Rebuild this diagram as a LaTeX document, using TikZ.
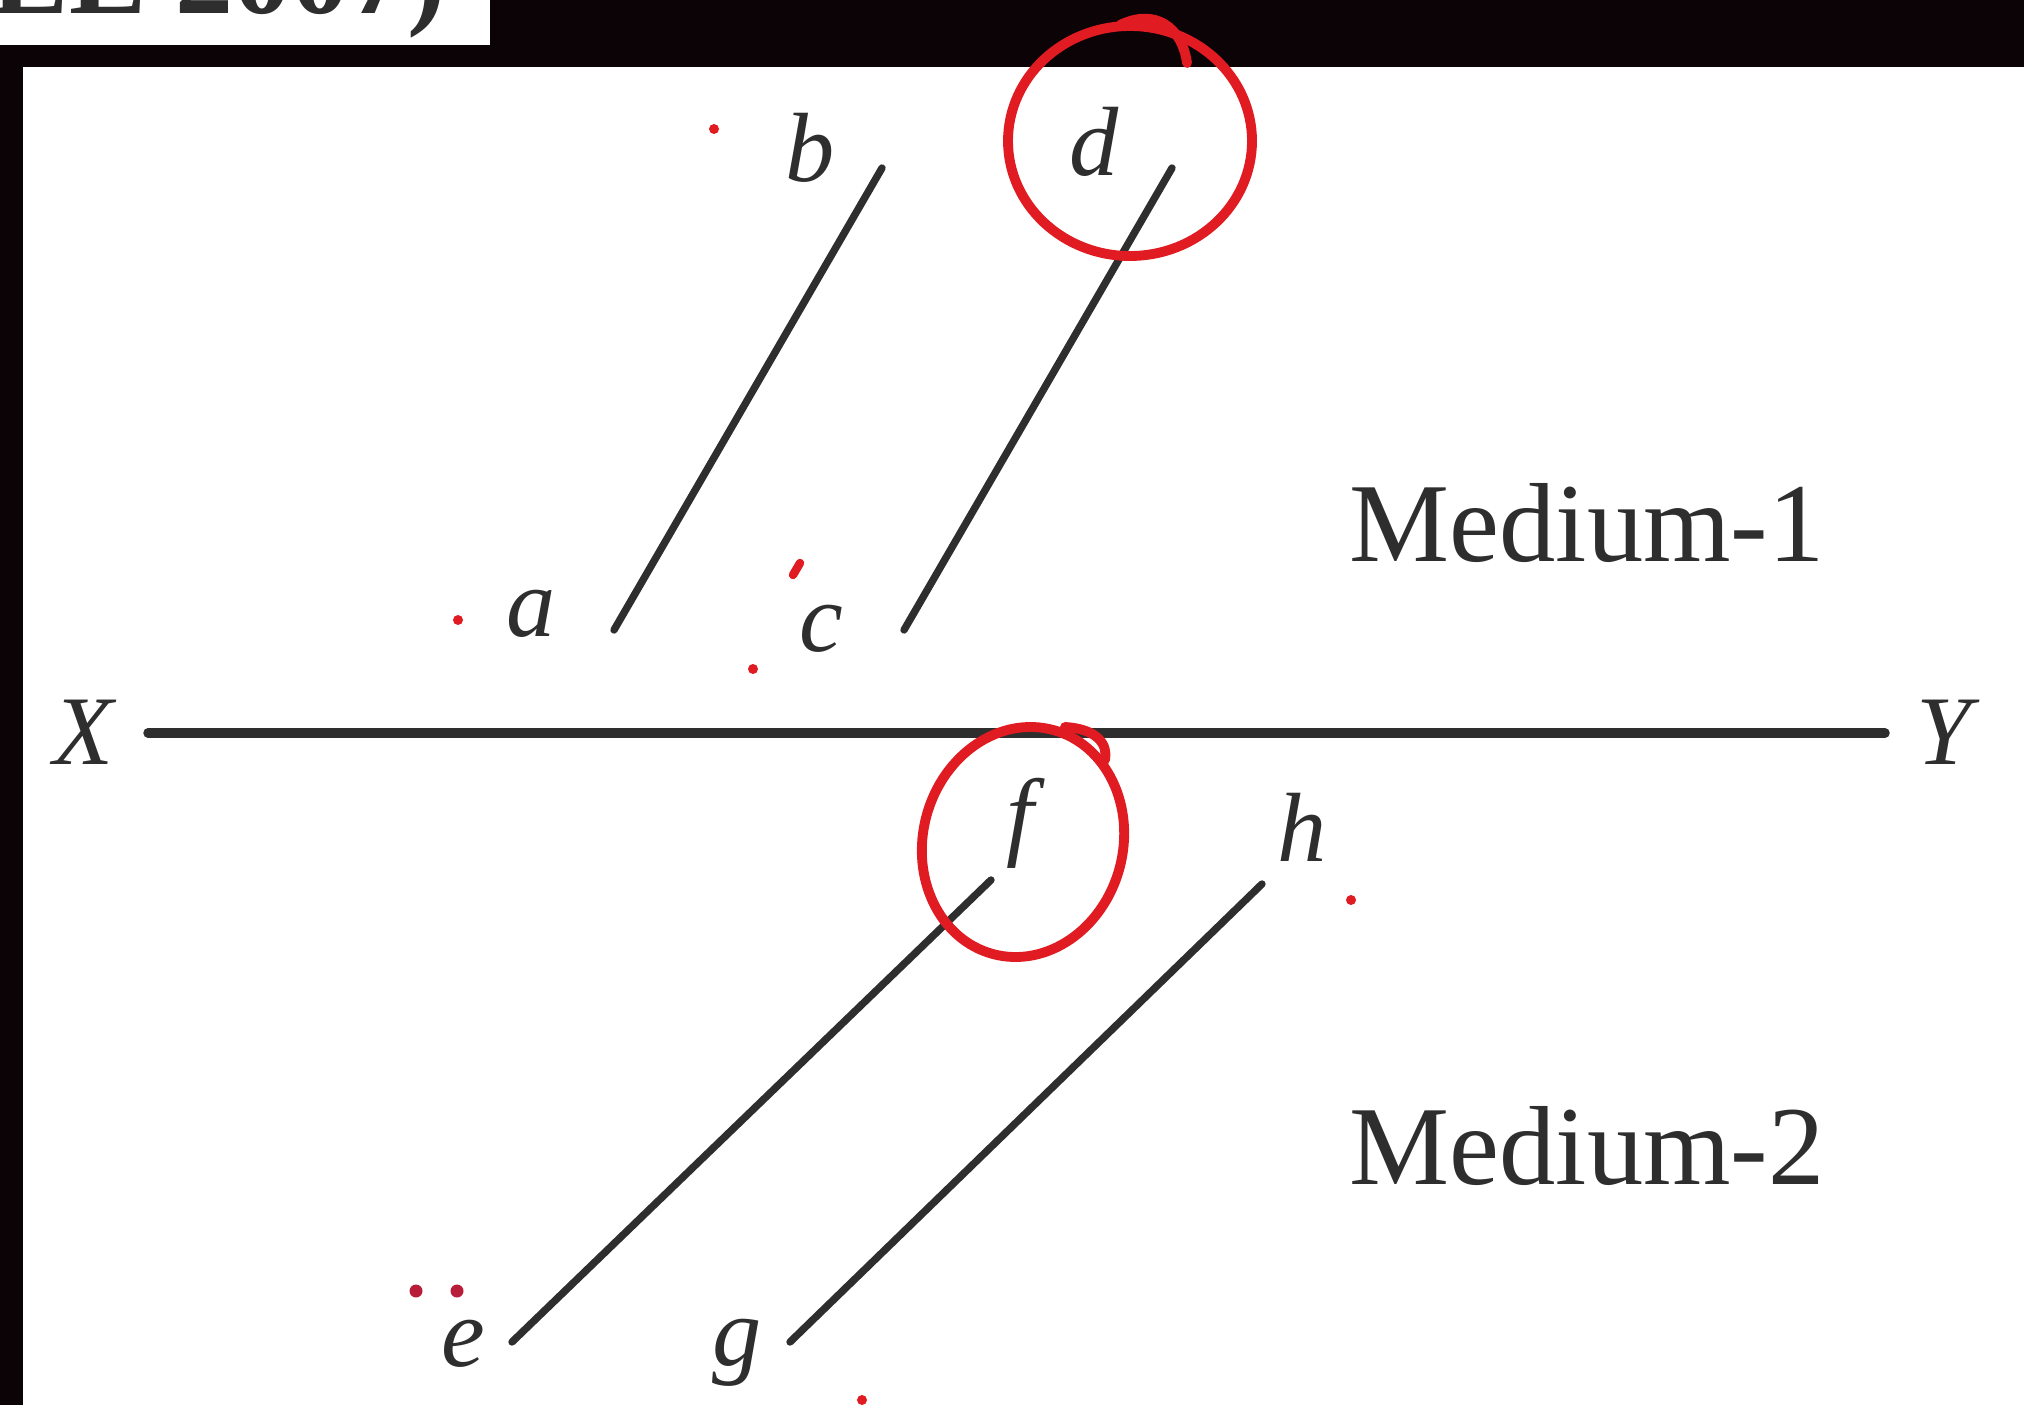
\documentclass[tikz,border=0pt]{standalone}
\usepackage{fontspec}
\setmainfont{Liberation Serif}
\usetikzlibrary{positioning}
\definecolor{ink}{HTML}{2E2E2E}
\definecolor{pen}{HTML}{E01B22}
\definecolor{darkpen}{HTML}{B81E3A}
\definecolor{framebg}{HTML}{0C0306}

\begin{document}
\begin{tikzpicture}[
    line cap=round,
    ray/.style={draw=ink, line width=2.1pt},
    boundary/.style={draw=ink, line width=2.7pt},
    lbl/.style={text=ink, font=\fontsize{28}{34}\selectfont\itshape, inner sep=0pt},
    medium/.style={text=ink, font=\fontsize{32}{38}\selectfont, inner sep=0pt, anchor=base west},
    penline/.style={draw=pen, line width=2.8pt},
    spot/.style={fill=pen, circle, inner sep=0pt, minimum size=0.10cm},
]
\useasboundingbox (0,0) rectangle (20.24,14.05);
% scanned frame
\fill[framebg] (0,0) rectangle (20.24,14.05);
\fill[white] (0.23,0) rectangle (20.24,13.38);
\fill[white] (0,13.60) rectangle (4.90,14.05);
\node[anchor=base east, text=ink, font=\fontsize{33}{40}\selectfont\bfseries, inner sep=0pt] (src) at (4.47,13.91) {EE 2007)};

% interface X--Y
\coordinate (xl) at (1.48,6.72);
\coordinate (yr) at (18.85,6.72);
\node[lbl] (X) at (0.84,6.73) {X};
\node[lbl] (Y) at (19.44,6.73) {Y};
\draw[boundary] (xl) -- (yr);

% medium-1 rays
\coordinate (a) at (6.14,7.75); \coordinate (b) at (8.82,12.37);
\coordinate (c) at (9.04,7.75); \coordinate (d) at (11.72,12.37);
\draw[ray] (a) -- (b); \draw[ray] (c) -- (d);
\node[lbl] (la) at (5.31,7.91) {a};
\node[lbl] (lb) at (8.10,12.57) {b};
\node[lbl] (lc) at (8.21,7.76) {c};
\node[lbl] (ld) at (10.94,12.63) {d};

% medium-2 rays
\coordinate (e) at (5.12,0.63); \coordinate (f) at (9.91,5.25);
\coordinate (g) at (7.90,0.63); \coordinate (h) at (12.62,5.21);
\draw[ray] (e) -- (f); \draw[ray] (g) -- (h);
\node[lbl] (le) at (4.63,0.61) {e};
\node[lbl] (lf) at (10.20,5.82) {f};
\node[lbl] (lg) at (7.37,0.52) {g};
\node[lbl] (lh) at (13.02,5.78) {h};

\node[medium] (m1) at (13.49,8.44) {Medium-1};
\node[medium] (m2) at (13.49,2.21) {Medium-2};

% red pen marks
\draw[penline] (11.30,12.64) ellipse [x radius=1.22, y radius=1.15];
\draw[penline] (11.20,13.80) .. controls (11.55,13.97) and (11.82,13.78) .. (11.87,13.42);
\draw[penline, rotate around={-15:(10.23,5.63)}] (10.23,5.63) ellipse [x radius=1.00, y radius=1.16];
\draw[penline] (10.65,6.78) .. controls (10.98,6.76) and (11.08,6.60) .. (11.05,6.45);
\node[spot] (s1) at (7.14,12.76) {};
\node[spot] (s2) at (4.58,7.85) {};
\draw[penline, line width=2.4pt] (7.93,8.30) -- (8.00,8.42);
\node[spot] (s4) at (7.53,7.36) {};
\node[spot, fill=darkpen, minimum size=0.13cm] (s5) at (4.16,1.14) {};
\node[spot, fill=darkpen, minimum size=0.13cm] (s6) at (4.57,1.14) {};
\node[spot] (s7) at (13.51,5.05) {};
\node[spot] (s8) at (8.62,0.05) {};
\end{tikzpicture}
\end{document}
